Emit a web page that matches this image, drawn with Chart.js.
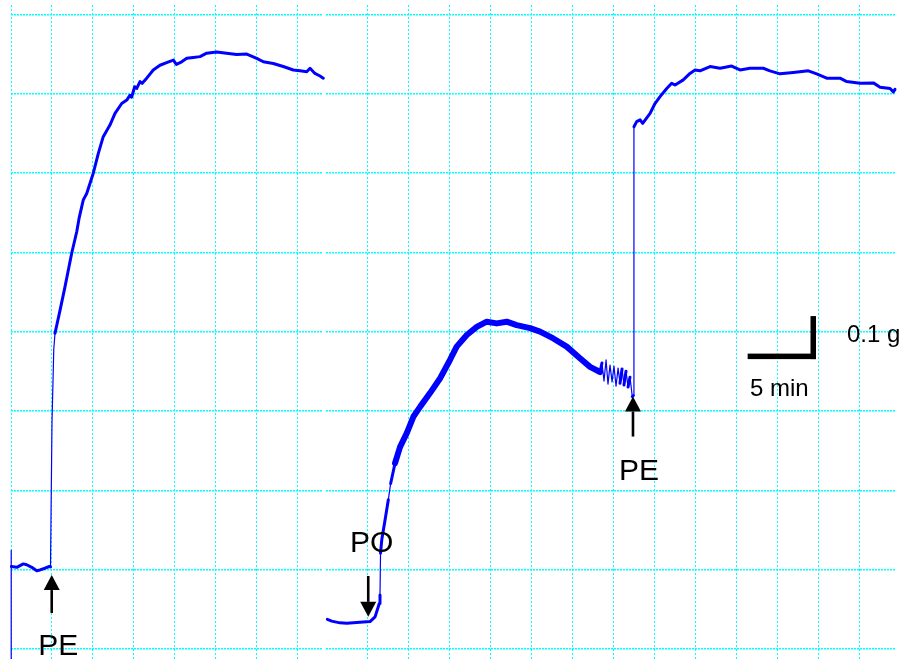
<!DOCTYPE html>
<html>
<head>
<meta charset="utf-8">
<script src="https://cdn.jsdelivr.net/npm/chart.js@4/dist/chart.umd.min.js"></script>
<style>
  html, body { margin: 0; padding: 0; background: #fff; }
  #wrap { position: relative; width: 906px; height: 659px; overflow: hidden; background: #fff; }
  canvas { position: absolute; top: 0; }
  #left { left: 0; }
  #right { left: 325px; }
</style>
</head>
<body>
<div id="wrap">
  <canvas id="left" width="325" height="659"></canvas>
  <canvas id="right" width="581" height="659"></canvas>
</div>
<script>
// ---- Recording 1: phenylephrine (PE) contraction. time in min, tension in g ----
const pe1Time = [0, 0, 0.03, 0.42, 0.90, 1.15, 1.52, 1.88, 2.12, 2.49, 2.80, 2.89, 3.00, 3.13, 3.22,
  3.59, 3.95, 4.44, 4.81, 4.98, 5.29, 5.54, 6.02, 6.39, 6.75, 7.24, 7.61, 8.10, 8.47, 8.70, 8.83, 9.05, 9.20,
  9.44, 9.60, 9.93, 10.41, 10.90, 11.39, 11.88, 12.10, 12.49, 12.86, 13.34, 13.83, 14.32, 15.05, 15.78, 16.51,
  17.25, 17.98, 18.46, 19.19, 19.92, 20.66, 21.15, 21.64, 21.88, 22.24, 22.61, 22.85];
const pe1Tension = [-0.05, 0.253, 0.215, 0.213, 0.221, 0.219, 0.213, 0.205, 0.207, 0.211, 0.215, 0.214, 0.550, 0.720, 0.757,
  0.811, 0.865, 0.943, 0.993, 1.024, 1.067, 1.082, 1.129, 1.175, 1.214, 1.241, 1.268, 1.291, 1.299, 1.310, 1.306, 1.330, 1.326,
  1.342, 1.338, 1.350, 1.369, 1.380, 1.386, 1.392, 1.382, 1.388, 1.396, 1.398, 1.400, 1.408, 1.411, 1.408, 1.405,
  1.406, 1.396, 1.388, 1.384, 1.377, 1.369, 1.367, 1.365, 1.373, 1.361, 1.355, 1.350];

// ---- Recording 2: PO contraction, then PE added on top ----
const poTime = [0.10, 0.42, 1.02, 1.52, 2.00, 2.73, 3.22, 3.59, 3.83, 3.90, 3.95, 3.99, 4.08, 4.32, 4.56,
  4.73, 5.05, 5.42, 5.91, 6.39, 6.88, 7.61, 8.34, 9.07, 9.56, 10.30, 11.03, 11.76, 12.49, 13.22, 13.95,
  14.93, 15.66, 16.63, 17.61, 18.58, 19.32, 20.05, 20.19, 20.34, 20.49, 20.63, 20.78, 20.93, 21.07,
  21.22, 21.37, 21.51, 21.66, 21.80, 21.95, 22.10, 22.24, 22.41, 22.48, 22.53, 22.73, 22.98, 23.17,
  23.71, 24.07, 24.44, 24.93, 25.29, 25.54, 26.14, 26.63, 27.00, 27.36, 28.10, 28.83, 29.68, 30.29,
  31.02, 31.99, 32.48, 33.22, 34.19, 35.29, 35.90, 36.63, 37.61, 38.10, 39.07, 40.05, 40.54, 41.27,
  41.51, 41.63];
const poTension = [0.092, 0.088, 0.084, 0.083, 0.084, 0.086, 0.087, 0.098, 0.122, 0.129, 0.149, 0.246, 0.277, 0.323, 0.370,
  0.408, 0.455, 0.493, 0.525, 0.563, 0.586, 0.618, 0.652, 0.695, 0.726, 0.753, 0.772, 0.784, 0.780, 0.784, 0.776,
  0.769, 0.761, 0.745, 0.726, 0.699, 0.679, 0.667, 0.688, 0.646, 0.695, 0.639, 0.683, 0.644, 0.681,
  0.634, 0.676, 0.641, 0.674, 0.637, 0.669, 0.632, 0.655, 0.610, 0.612, 1.237, 1.249, 1.253, 1.245,
  1.268, 1.291, 1.307, 1.326, 1.338, 1.334, 1.346, 1.361, 1.369, 1.367, 1.377, 1.373, 1.378, 1.369,
  1.373, 1.373, 1.367, 1.360, 1.363, 1.367, 1.360, 1.350, 1.350, 1.342, 1.338, 1.339, 1.329, 1.326,
  1.318, 1.324];

// chart-paper grid divisions
const timeGridStep = 3;                // min
const tensionGridStart = 0.0232;       // g
const tensionGridStep = 0.1843;        // g
const tensionRange = [0, 1.52];

// drug markers and calibration bar, in (min, g)
const leftMarks = {
  arrows: [{ t: 2.98, from: 0.107, to: 0.195 }],
  labels: [{ text: 'PE', t: 2.0, g: 0.009, size: 30 }]
};
const rightMarks = {
  arrows: [{ t: 3.09, from: 0.193, to: 0.098 }, { t: 22.46, from: 0.517, to: 0.610 }],
  labels: [
    { text: 'PO', t: 1.76, g: 0.249, size: 30 },
    { text: 'PE', t: 21.44, g: 0.416, size: 30 },
    { text: '5 min', t: 31.02, g: 0.612, size: 24 },
    { text: '0.1 g', t: 38.12, g: 0.737, size: 24 }
  ],
  scaleBar: { t: 30.85, g: 0.697, dt: 5, dg: 0.1 }
};

const TRACE = '#0000ff';
const GRID = '#00ffff';
const FONT = '"Liberation Sans", Arial, Helvetica, sans-serif';

function points(ts, gs) { return ts.map((t, i) => ({ x: t, y: gs[i] })); }

function strokeWidth(ctx, times, noisy) {
  const dx = Math.abs(ctx.p1.x - ctx.p0.x);
  const dy = Math.abs(ctx.p1.y - ctx.p0.y);
  if (dx < 3 && dy > 15) return 1.2;         // fast step / spike: fine stroke
  const t = times[ctx.p0DataIndex];
  if (noisy && t >= noisy[0] && t < noisy[1]) return 6;
  return 3;
}

const markerPlugin = {
  id: 'markers',
  afterDatasetsDraw(chart, args, opts) {
    const { ctx, scales: { x, y } } = chart;
    const X = v => x.getPixelForValue(v);
    const Y = v => y.getPixelForValue(v);
    ctx.save();
    ctx.fillStyle = '#000';
    ctx.strokeStyle = '#000';
    (opts.arrows || []).forEach(a => {
      const px = X(a.t), y0 = Y(a.from), y1 = Y(a.to);
      const dir = Math.sign(y1 - y0);
      const head = 15, half = 8;
      ctx.lineWidth = 2.6;
      ctx.beginPath();
      ctx.moveTo(px, y0);
      ctx.lineTo(px, y1 - dir * head);
      ctx.stroke();
      ctx.beginPath();
      ctx.moveTo(px, y1);
      ctx.lineTo(px - half, y1 - dir * head);
      ctx.lineTo(px + half, y1 - dir * head);
      ctx.closePath();
      ctx.fill();
    });
    if (opts.scaleBar) {
      const s = opts.scaleBar, w = 5.5;
      const x0 = X(s.t), x1 = X(s.t + s.dt), yb = Y(s.g), yt = Y(s.g + s.dg);
      ctx.fillRect(x0, yb - w, x1 - x0, w);
      ctx.fillRect(x1 - w, yt, w, yb - yt);
    }
    ctx.textAlign = 'left';
    ctx.textBaseline = 'alphabetic';
    (opts.labels || []).forEach(l => {
      ctx.font = l.size + 'px ' + FONT;
      ctx.fillText(l.text, X(l.t), Y(l.g));
    });
    ctx.restore();
  }
};

function gridTicks(start, step, max) {
  const out = [];
  for (let v = start; v <= max + 1e-9; v += step) out.push({ value: v });
  return out;
}

function makeChart(id, times, tensions, tMax, firstTimeTick, pad, marks, noisy) {
  return new Chart(document.getElementById(id), {
    type: 'line',
    data: {
      datasets: [{
        data: points(times, tensions),
        borderColor: TRACE,
        borderWidth: 3,
        borderJoinStyle: 'round',
        borderCapStyle: 'round',
        pointRadius: 0,
        tension: 0,
        fill: false,
        clip: false,
        segment: { borderWidth: c => strokeWidth(c, times, noisy) }
      }]
    },
    options: {
      responsive: false,
      animation: false,
      events: [],
      layout: { padding: pad },
      plugins: { legend: { display: false }, tooltip: { enabled: false }, markers: marks },
      scales: {
        x: {
          type: 'linear', min: 0, max: tMax,
          afterBuildTicks: s => { s.ticks = gridTicks(firstTimeTick, timeGridStep, tMax); },
          ticks: { display: false },
          grid: { color: GRID, lineWidth: 1, drawTicks: false },
          border: { display: false, dash: [2, 2] }
        },
        y: {
          type: 'linear', min: tensionRange[0], max: tensionRange[1],
          afterBuildTicks: s => { s.ticks = gridTicks(tensionGridStart, tensionGridStep, tensionRange[1]); },
          ticks: { display: false },
          grid: { color: GRID, lineWidth: 1.5, drawTicks: false },
          border: { display: false, dash: [2, 1] }
        }
      }
    },
    plugins: [markerPlugin]
  });
}

makeChart('left', pe1Time, pe1Tension, 22.83, 0, { left: 11, right: 2, top: 5, bottom: 0 }, leftMarks, null);
makeChart('right', poTime, poTension, 41.63, 3, { left: 1, right: 11, top: 5, bottom: 0 }, rightMarks, [5.0, 20.0]);
</script>
</body>
</html>
